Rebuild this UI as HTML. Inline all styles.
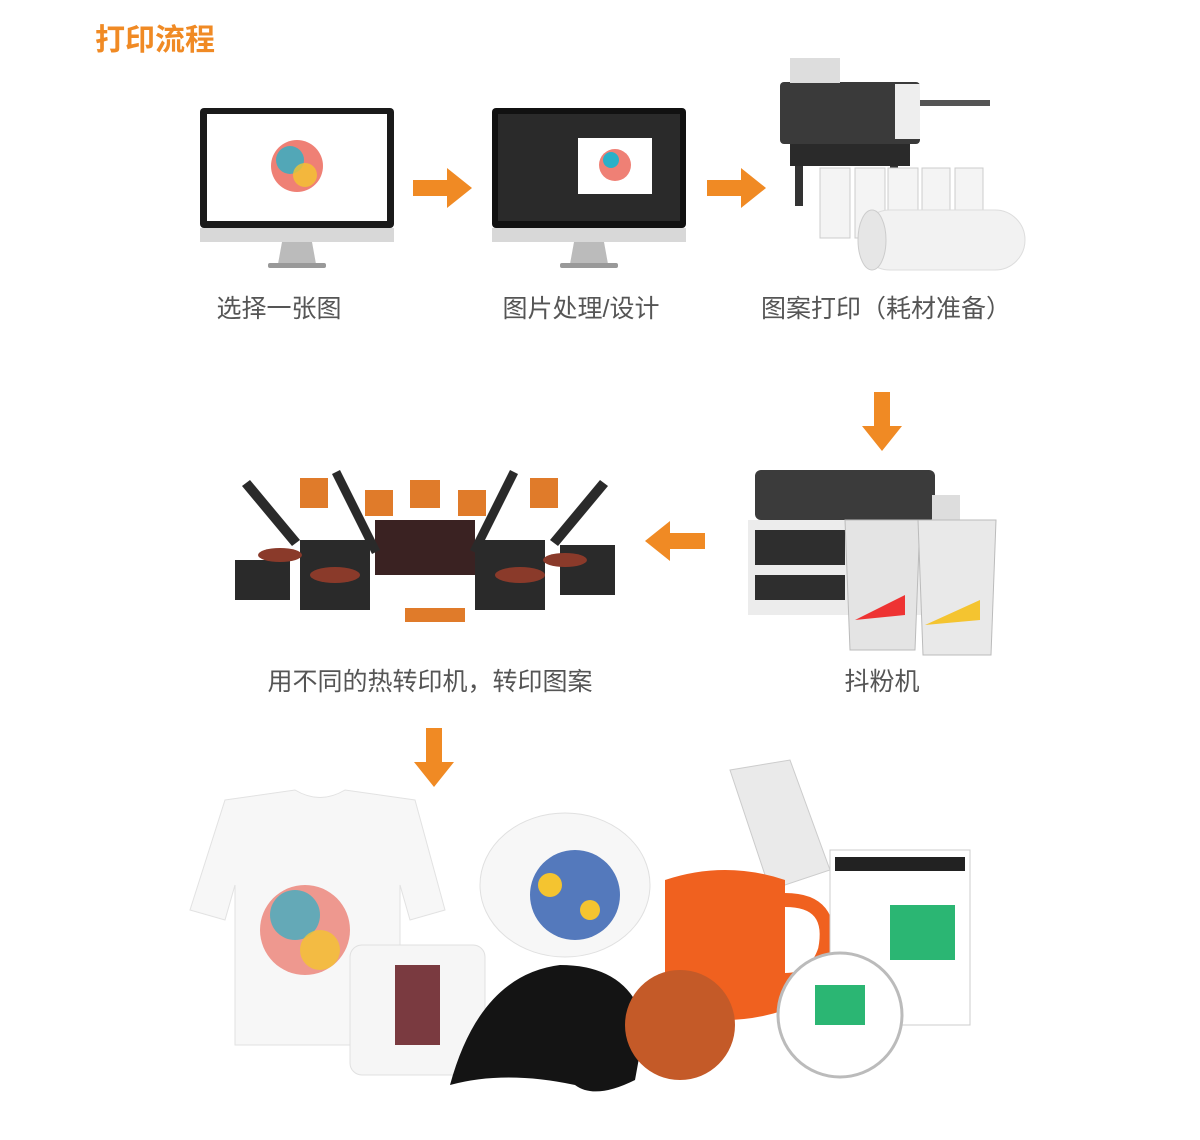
<!DOCTYPE html>
<html><head><meta charset="utf-8"><style>
body{margin:0;width:1200px;height:1140px;background:#fff;position:relative;overflow:hidden;font-family:"Liberation Sans","Noto Sans CJK SC",sans-serif}
.a{position:absolute}
.t{position:absolute;font-size:25px;color:#555;white-space:nowrap;transform:translateX(-50%)}
</style></head><body>
<div class="a" style="left:95px;top:15px;font-size:30px;font-weight:bold;color:#f08a24;letter-spacing:0px">打印流程</div>

<svg class="a" style="left:0;top:0" width="1200" height="1140">
<!-- monitor 1 -->
<rect x="200" y="108" width="194" height="120" rx="4" fill="#1a1a1a"/>
<rect x="207" y="114" width="180" height="107" fill="#fff"/>
<rect x="200" y="228" width="194" height="14" fill="#d8d8d8"/>
<path d="M282 242 L312 242 L316 264 L278 264Z" fill="#bbb"/><rect x="268" y="263" width="58" height="5" rx="2" fill="#999"/>
<circle cx="297" cy="166" r="26" fill="#e84a3a" opacity=".7"/><circle cx="290" cy="160" r="14" fill="#2ab0c8" opacity=".8"/><circle cx="305" cy="175" r="12" fill="#f4c430" opacity=".8"/>
<!-- monitor 2 -->
<rect x="492" y="108" width="194" height="120" rx="4" fill="#111"/>
<rect x="498" y="114" width="182" height="107" fill="#2a2a2a"/>
<rect x="578" y="138" width="74" height="56" fill="#fff"/>
<circle cx="615" cy="165" r="16" fill="#e84a3a" opacity=".7"/><circle cx="611" cy="160" r="8" fill="#2ab0c8"/>
<rect x="492" y="228" width="194" height="14" fill="#d8d8d8"/>
<path d="M574 242 L604 242 L608 264 L570 264Z" fill="#bbb"/><rect x="560" y="263" width="58" height="5" rx="2" fill="#999"/>
<!-- arrows -->
<g fill="#f08a24">
<path d="M413 180 h34 v-12 l25 20 -25 20 v-12 h-34z"/>
<path d="M707 180 h34 v-12 l25 20 -25 20 v-12 h-34z"/>
<path d="M874 392 h16 v34 h12 l-20 25 -20 -25 h12z"/>
<path d="M705 533 h-35 v-12 l-25 20 25 20 v-12 h35z"/>
<path d="M426 728 h16 v34 h12 l-20 25 -20 -25 h12z"/>
</g>
<!-- printer -->
<rect x="780" y="82" width="140" height="62" rx="4" fill="#3a3a3a"/>
<rect x="790" y="58" width="50" height="25" fill="#ddd"/>
<rect x="895" y="84" width="25" height="55" fill="#eee"/>
<rect x="920" y="100" width="70" height="6" fill="#555"/>
<rect x="790" y="144" width="120" height="22" fill="#2a2a2a"/>
<rect x="795" y="166" width="8" height="40" fill="#333"/><rect x="890" y="166" width="8" height="40" fill="#333"/>
<g fill="#f4f4f4" stroke="#ccc"><rect x="820" y="168" width="30" height="70"/><rect x="855" y="168" width="30" height="70"/><rect x="888" y="168" width="30" height="70"/><rect x="922" y="168" width="28" height="70"/><rect x="955" y="168" width="28" height="70"/></g>
<rect x="860" y="210" width="165" height="60" rx="30" fill="#f2f2f2" stroke="#ddd"/>
<ellipse cx="872" cy="240" rx="14" ry="30" fill="#e6e6e6" stroke="#ccc"/>
<!-- shaker -->
<rect x="755" y="470" width="180" height="50" rx="6" fill="#3b3b3b"/>
<rect x="748" y="520" width="195" height="95" fill="#ececec"/>
<rect x="755" y="530" width="90" height="35" fill="#2e2e2e"/><rect x="755" y="575" width="90" height="25" fill="#2e2e2e"/>
<rect x="932" y="495" width="28" height="110" fill="#ddd"/>
<path d="M845 520 h75 l-5 130 h-65z" fill="#e4e4e4" stroke="#bbb"/>
<path d="M918 520 h78 l-5 135 h-68z" fill="#e9e9e9" stroke="#bbb"/>
<path d="M855 620 l50 -25 v20z" fill="#e33"/><path d="M925 625 l55 -25 v20z" fill="#f4c430"/>
<!-- heat presses -->
<g fill="#2a2a2a">
<rect x="235" y="560" width="55" height="40"/><rect x="300" y="540" width="70" height="70"/><rect x="475" y="540" width="70" height="70"/><rect x="560" y="545" width="55" height="50"/>
<rect x="375" y="520" width="100" height="55" fill="#3a2222"/>
<path d="M250 480 l50 60 -8 6 -50 -60z"/><path d="M340 470 l40 80 -8 4 -40 -80z"/><path d="M600 480 l-50 60 8 6 50 -60z"/><path d="M510 470 l-40 80 8 4 40 -80z"/>
</g>
<g fill="#e07b2a"><rect x="300" y="478" width="28" height="30"/><rect x="365" y="490" width="28" height="26"/><rect x="410" y="480" width="30" height="28"/><rect x="458" y="490" width="28" height="26"/><rect x="530" y="478" width="28" height="30"/><rect x="405" y="608" width="60" height="14"/></g>
<ellipse cx="280" cy="555" rx="22" ry="7" fill="#8a3a2a"/><ellipse cx="335" cy="575" rx="25" ry="8" fill="#8a3a2a"/><ellipse cx="520" cy="575" rx="25" ry="8" fill="#8a3a2a"/><ellipse cx="565" cy="560" rx="22" ry="7" fill="#8a3a2a"/>
<!-- products -->
<path d="M225 800 l70 -10 q25 15 50 0 l70 10 l30 110 -35 10 -10 -35 v160 h-165 v-160 l-10 35 -35 -10z" fill="#f7f7f7" stroke="#e2e2e2"/>
<circle cx="305" cy="930" r="45" fill="#e84a3a" opacity=".55"/><circle cx="295" cy="915" r="25" fill="#2ab0c8" opacity=".7"/><circle cx="320" cy="950" r="20" fill="#f4c430" opacity=".8"/>
<rect x="350" y="945" width="135" height="130" rx="12" fill="#f6f6f6" stroke="#e0e0e0"/>
<rect x="395" y="965" width="45" height="80" fill="#7a3a40"/>
<ellipse cx="565" cy="885" rx="85" ry="72" fill="#f7f7f7" stroke="#e0e0e0"/>
<circle cx="575" cy="895" r="45" fill="#1e4fa8" opacity=".75"/><circle cx="550" cy="885" r="12" fill="#f4c430"/><circle cx="590" cy="910" r="10" fill="#f4c430"/>
<path d="M730 770 l60 -10 40 110 -60 20z" fill="#eaeaea" stroke="#ccc"/>
<path d="M665 880 q60 -20 120 0 v130 q-60 20 -120 0z" fill="#f0611f"/>
<path d="M785 900 q50 0 40 50 q-10 30 -40 30" stroke="#f0611f" stroke-width="14" fill="none"/>
<rect x="830" y="850" width="140" height="175" fill="#fff" stroke="#ccc"/>
<rect x="835" y="857" width="130" height="14" fill="#222"/>
<rect x="890" y="905" width="65" height="55" fill="#2bb673"/>
<circle cx="840" cy="1015" r="62" fill="#fff" stroke="#bbb" stroke-width="3"/>
<rect x="815" y="985" width="50" height="40" fill="#2bb673"/>
<path d="M450 1085 q30 -110 110 -120 q70 0 85 60 l-10 55 q-40 20 -60 5 q-70 -15 -125 0z" fill="#141414"/>
<circle cx="680" cy="1025" r="55" fill="#c45a28"/>
</svg>

<div class="t" style="left:279px;top:289px">选择一张图</div>
<div class="t" style="left:581px;top:289px">图片处理/设计</div>
<div class="t" style="left:886px;top:289px">图案打印（耗材准备）</div>
<div class="t" style="left:430px;top:662px">用不同的热转印机，转印图案</div>
<div class="t" style="left:882px;top:662px">抖粉机</div>
</body></html>
